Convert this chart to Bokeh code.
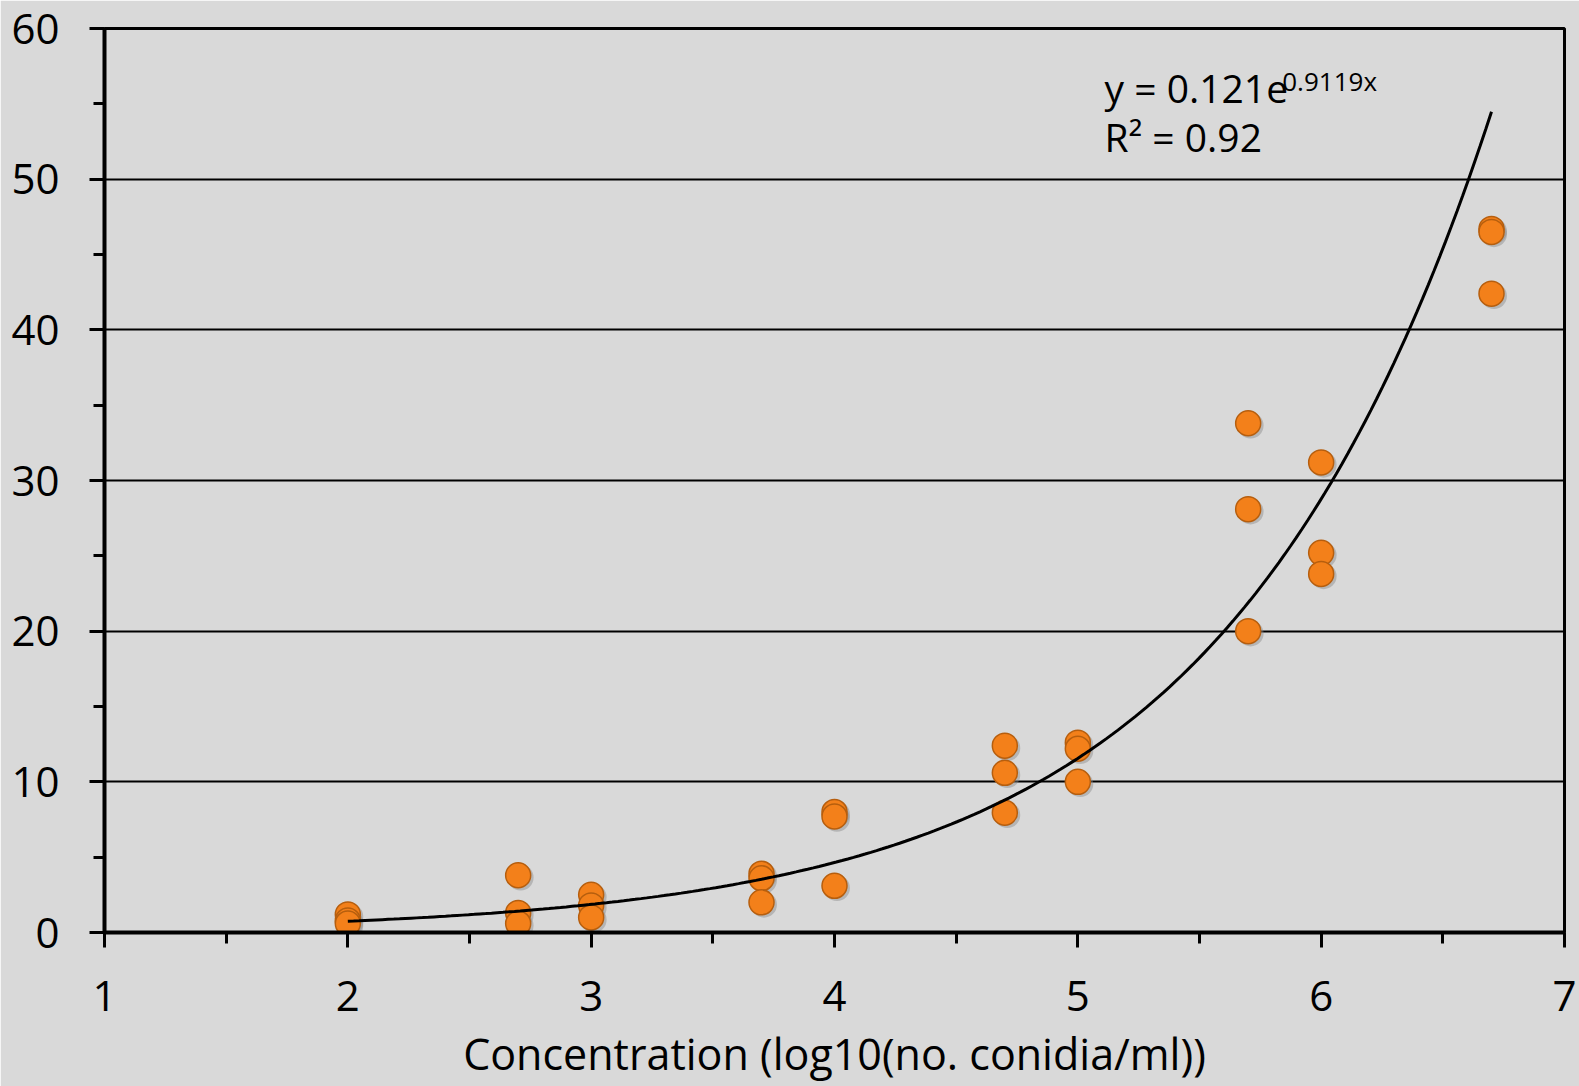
import numpy as np
from bokeh.plotting import figure
from bokeh.models import FixedTicker, Label, Range1d
from bokeh.embed import file_html
from bokeh.resources import INLINE

# ---- data ----
conc = [2, 2, 2, 2.7, 2.7, 2.7, 3, 3, 3, 3.7, 3.7, 3.7, 4, 4, 4,
        4.7, 4.7, 4.7, 5, 5, 5, 5.7, 5.7, 5.7, 6, 6, 6, 6.7, 6.7, 6.7]
response = [1.2, 0.8, 0.6, 3.8, 1.3, 0.6, 2.5, 1.8, 1.0, 3.9, 3.6, 2.0,
            8.0, 7.7, 3.1, 12.4, 10.6, 7.95, 12.6, 12.2, 10.0,
            33.8, 28.1, 20.0, 31.2, 25.2, 23.8, 46.7, 46.5, 42.4]

x_ticks = [1, 2, 3, 4, 5, 6, 7]
x_minor = [1.5, 2.5, 3.5, 4.5, 5.5, 6.5]
y_ticks = [0, 10, 20, 30, 40, 50, 60]
y_minor = [5, 15, 25, 35, 45, 55]
x_label = "Concentration (log10(no. conidia/ml))"

fit_a = 0.121
fit_b = 0.9119
fit_r2 = "0.92"
fit_x_start, fit_x_end = 2, 6.7

BG = "#d9d9d9"
FONT = "Open Sans"

p = figure(width=1579, height=1086, x_range=Range1d(1, 7), y_range=Range1d(0, 60),
           output_backend="svg", toolbar_location=None,
           min_border_left=104, min_border_right=15, min_border_top=28, min_border_bottom=154)
p.background_fill_color = BG
p.border_fill_color = BG
p.outline_line_color = "black"
p.outline_line_width = 3

p.xgrid.visible = False
p.ygrid.ticker = FixedTicker(ticks=y_ticks[1:-1])
p.ygrid.grid_line_color = "black"
p.ygrid.grid_line_width = 2

xa = p.xaxis[0]
xa.ticker = FixedTicker(ticks=x_ticks, minor_ticks=x_minor)
ya = p.yaxis[0]
ya.ticker = FixedTicker(ticks=y_ticks, minor_ticks=y_minor)
for ax in (xa, ya):
    ax.axis_line_color = "black"
    ax.axis_line_width = 4
    ax.major_tick_line_color = "black"
    ax.major_tick_line_width = 3
    ax.minor_tick_line_color = "black"
    ax.minor_tick_line_width = 3
    ax.major_tick_in = 0
    ax.major_tick_out = 15
    ax.minor_tick_in = 0
    ax.minor_tick_out = 11
    ax.major_label_text_font = FONT
    ax.major_label_text_font_size = "42px"
    ax.major_label_text_color = "black"
ya.major_label_standoff = 30
xa.major_label_standoff = 33
xa.axis_label = x_label
xa.axis_label_text_font = FONT
xa.axis_label_text_font_size = "43px"
xa.axis_label_text_font_style = "normal"
xa.axis_label_text_color = "black"
xa.axis_label_standoff = 10

# marker shadow
sx = [c + 0.01 for c in conc]
sy = [r - 0.15 for r in response]
p.scatter(sx, sy, size=26, fill_color="#8a8a8a", fill_alpha=0.45, line_color=None)
p.scatter(conc, response, size=25, fill_color="#f3801a", line_color="#b65e0e", line_width=1.5)

xf = np.linspace(fit_x_start, fit_x_end, 200)
yf = fit_a * np.exp(fit_b * xf)
p.line(xf, yf, line_color="black", line_width=3)

p.add_layout(Label(x=5.11, y=56.1, text=f"y = {fit_a}e", text_font=FONT,
                   text_font_size="39px", text_color="black", text_baseline="alphabetic"))
p.add_layout(Label(x=5.84, y=56.5, text=f"{fit_b}x", text_font=FONT,
                   text_font_size="26px", text_color="black", text_baseline="alphabetic"))
p.add_layout(Label(x=5.11, y=52.8, text=f"R² = {fit_r2}", text_font=FONT,
                   text_font_size="39px", text_color="black", text_baseline="alphabetic"))

open("out.html", "w").write(file_html(p, INLINE))
